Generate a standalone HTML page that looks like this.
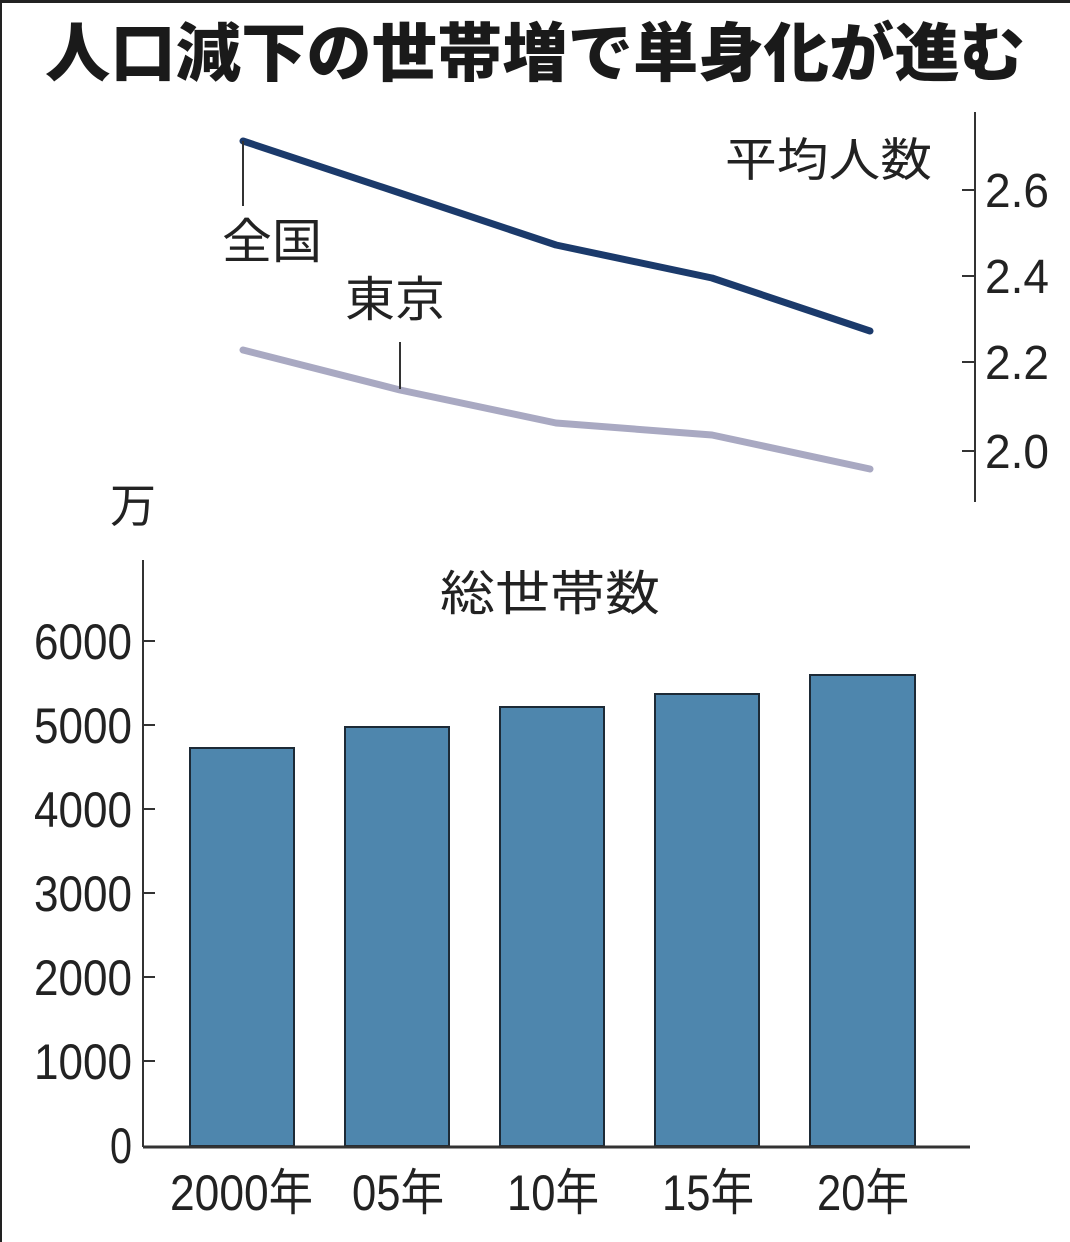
<!DOCTYPE html>
<html><head><meta charset="utf-8"><style>
html,body{margin:0;padding:0;background:#fff}
svg{display:block}
text{font-family:"Liberation Sans","Noto Sans CJK JP",sans-serif;fill:#222}
.t{font-family:"Noto Sans CJK JP","Liberation Sans",sans-serif;font-weight:900;fill:#1a1a1a}
.j{font-family:"Noto Sans CJK JP",sans-serif;fill:#222}
</style></head><body>
<svg width="1070" height="1242" viewBox="0 0 1070 1242" xmlns="http://www.w3.org/2000/svg">
<rect x="0" y="0" width="1070" height="1242" fill="#fff"/>
<rect x="0" y="0" width="1070" height="3" fill="#222"/>
<rect x="0" y="0" width="2" height="1242" fill="#222"/>
<text class="t" x="45" y="76" font-size="64" textLength="980" lengthAdjust="spacingAndGlyphs">人口減下の世帯増で単身化が進む</text>

<line x1="975" y1="112" x2="975" y2="502" stroke="#333" stroke-width="2"/>
<g stroke="#333" stroke-width="2">
<line x1="962" y1="190" x2="975" y2="190"/>
<line x1="962" y1="276" x2="975" y2="276"/>
<line x1="962" y1="362" x2="975" y2="362"/>
<line x1="962" y1="451" x2="975" y2="451"/>
</g>
<g font-size="48">
<text x="985" y="207" textLength="64" lengthAdjust="spacingAndGlyphs">2.6</text>
<text x="985" y="293" textLength="64" lengthAdjust="spacingAndGlyphs">2.4</text>
<text x="985" y="379" textLength="64" lengthAdjust="spacingAndGlyphs">2.2</text>
<text x="985" y="468" textLength="64" lengthAdjust="spacingAndGlyphs">2.0</text>
</g>
<text class="j" x="725" y="176" font-size="46" textLength="207" lengthAdjust="spacingAndGlyphs">平均人数</text>

<polyline points="243,141 400,193 556,245 712,278 870,331" fill="none" stroke="#1b3a6b" stroke-width="7" stroke-linejoin="round" stroke-linecap="round"/>
<polyline points="243,350 400,390 556,423 712,435 870,469" fill="none" stroke="#a9a9c2" stroke-width="7" stroke-linejoin="round" stroke-linecap="round"/>
<line x1="243" y1="141" x2="243" y2="206" stroke="#333" stroke-width="2"/>
<line x1="400" y1="342" x2="400" y2="389" stroke="#333" stroke-width="2"/>
<text class="j" x="222" y="258" font-size="48" textLength="100" lengthAdjust="spacingAndGlyphs">全国</text>
<text class="j" x="345" y="316" font-size="48" textLength="100" lengthAdjust="spacingAndGlyphs">東京</text>

<text class="j" x="110" y="522" font-size="46">万</text>
<text class="j" x="440" y="610" font-size="48" textLength="220" lengthAdjust="spacingAndGlyphs">総世帯数</text>
<line x1="143" y1="560" x2="143" y2="1147" stroke="#333" stroke-width="2"/>
<g stroke="#333" stroke-width="2">
<line x1="143" y1="641" x2="155" y2="641"/>
<line x1="143" y1="725" x2="155" y2="725"/>
<line x1="143" y1="809" x2="155" y2="809"/>
<line x1="143" y1="893" x2="155" y2="893"/>
<line x1="143" y1="977" x2="155" y2="977"/>
<line x1="143" y1="1061" x2="155" y2="1061"/>
</g>
<g font-size="50" text-anchor="end">
<text x="132" y="659" textLength="98" lengthAdjust="spacingAndGlyphs">6000</text>
<text x="132" y="743" textLength="98" lengthAdjust="spacingAndGlyphs">5000</text>
<text x="132" y="827" textLength="98" lengthAdjust="spacingAndGlyphs">4000</text>
<text x="132" y="911" textLength="98" lengthAdjust="spacingAndGlyphs">3000</text>
<text x="132" y="995" textLength="98" lengthAdjust="spacingAndGlyphs">2000</text>
<text x="132" y="1079" textLength="98" lengthAdjust="spacingAndGlyphs">1000</text>
<text x="132" y="1163" textLength="22" lengthAdjust="spacingAndGlyphs">0</text>
</g>
<g fill="#4e86ad" stroke="#1d2a36" stroke-width="2">
<rect x="190" y="748" width="104" height="398"/>
<rect x="345" y="727" width="104" height="419"/>
<rect x="500" y="707" width="104" height="439"/>
<rect x="655" y="694" width="104" height="452"/>
<rect x="810" y="675" width="105" height="471"/>
</g>
<line x1="143" y1="1147" x2="970" y2="1147" stroke="#333" stroke-width="3"/>
<g font-size="50">
<text x="170" y="1210" textLength="143" lengthAdjust="spacingAndGlyphs">2000年</text>
<text x="352" y="1210" textLength="92" lengthAdjust="spacingAndGlyphs">05年</text>
<text x="507" y="1210" textLength="92" lengthAdjust="spacingAndGlyphs">10年</text>
<text x="662" y="1210" textLength="92" lengthAdjust="spacingAndGlyphs">15年</text>
<text x="817" y="1210" textLength="92" lengthAdjust="spacingAndGlyphs">20年</text>
</g>
</svg>
</body></html>
